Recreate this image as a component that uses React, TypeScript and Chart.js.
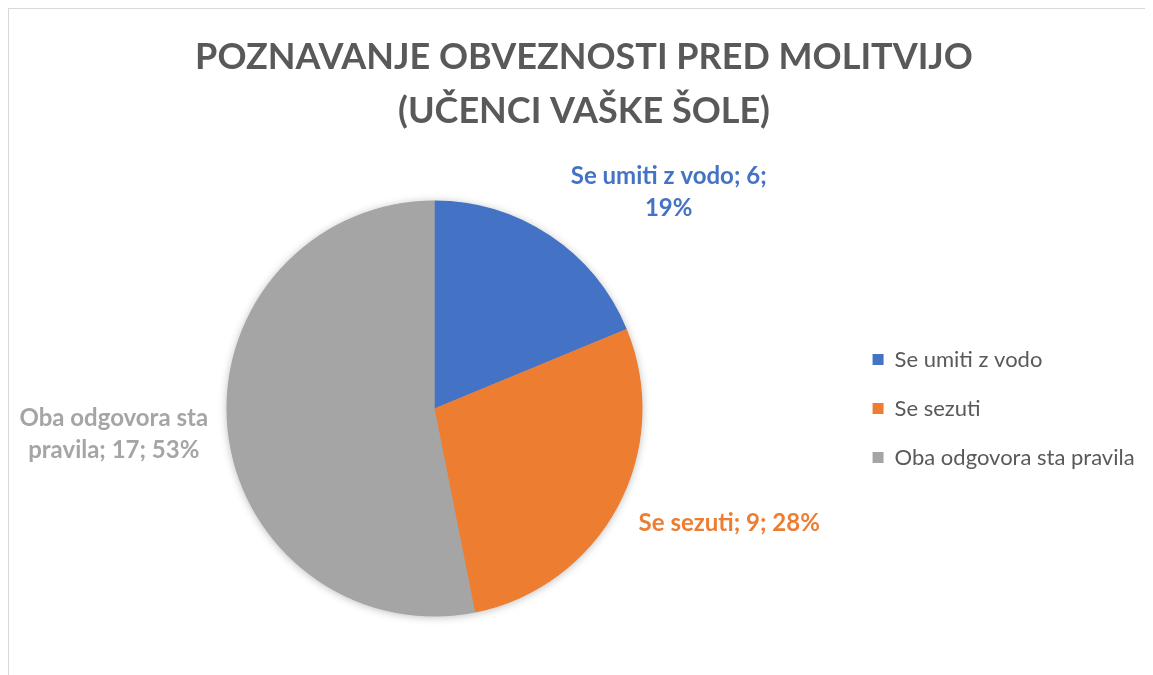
import React, { useEffect, useRef } from "react";
import { Chart, registerables } from "chart.js";

Chart.register(...registerables);

const TITLE_LINES = ["POZNAVANJE OBVEZNOSTI PRED MOLITVIJO", "(UČENCI VAŠKE ŠOLE)"];
const CATEGORIES = ["Se umiti z vodo", "Se sezuti", "Oba odgovora sta pravila"];
const VALUES = [6, 9, 17];
const COLORS = ["#4472C4", "#ED7D31", "#A5A5A5"];
// label lines (as Excel wraps them)
const LABEL_LINES = [
  ["Se umiti z vodo; 6;", "19%"],
  ["Se sezuti; 9; 28%"],
  ["Oba odgovora sta", "pravila; 17; 53%"],
];
// label centre relative to pie centre, in units of the pie radius
const LABEL_POS: [number, number][] = [
  [1.126, -1.038],
  [1.417, 0.55],
  [-1.542, 0.125],
];

const FONT = "Lato, 'Open Sans', sans-serif";

const shadowPlugin = {
  id: "pieShadow",
  beforeDatasetsDraw(chart: any) {
    const meta = chart.getDatasetMeta(0);
    const arc = meta.data[0];
    if (!arc) return;
    const { x, y, outerRadius } = arc.getProps(["x", "y", "outerRadius"], true);
    const ctx = chart.ctx;
    ctx.save();
    ctx.shadowColor = "rgba(0,0,0,0.28)";
    ctx.shadowBlur = 9;
    ctx.shadowOffsetX = 0;
    ctx.shadowOffsetY = 1;
    ctx.fillStyle = "#A5A5A5";
    ctx.beginPath();
    ctx.arc(x, y, outerRadius - 0.5, 0, Math.PI * 2);
    ctx.fill();
    ctx.restore();
  },
};

const labelPlugin = {
  id: "pieLabels",
  afterDatasetsDraw(chart: any) {
    const meta = chart.getDatasetMeta(0);
    const ctx = chart.ctx;
    ctx.save();
    ctx.font = `bold 24px ${FONT}`;
    ctx.textAlign = "center";
    ctx.textBaseline = "middle";
    const lineH = 32;
    meta.data.forEach((arc: any, i: number) => {
      const { x, y, outerRadius } = arc.getProps(["x", "y", "outerRadius"], true);
      const cx = x + LABEL_POS[i][0] * outerRadius;
      const cy = y + LABEL_POS[i][1] * outerRadius;
      const lines = LABEL_LINES[i];
      ctx.fillStyle = COLORS[i];
      lines.forEach((ln, k) => {
        const ly = cy + (k - (lines.length - 1) / 2) * lineH;
        ctx.fillText(ln, cx, ly);
      });
    });
    ctx.restore();
  },
};

export default function App() {
  const ref = useRef<HTMLCanvasElement | null>(null);
  useEffect(() => {
    document.documentElement.style.overflow = "hidden";
    document.body.style.overflow = "hidden";
    if (!ref.current) return;
    const chart = new Chart(ref.current, {
      type: "pie",
      data: {
        labels: CATEGORIES,
        datasets: [
          {
            data: VALUES,
            backgroundColor: COLORS,
            borderWidth: 0,
            hoverOffset: 0,
          },
        ],
      },
      options: {
        responsive: false,
        animation: false,
        layout: { padding: { left: 14.4, right: 8.4, top: 0, bottom: 58.5 } },
        plugins: {
          title: {
            display: true,
            text: TITLE_LINES,
            color: "#595959",
            font: { family: FONT, size: 36, weight: "bold", lineHeight: 54 / 36 },
            padding: { top: 21, bottom: 62.5 },
          },
          legend: {
            display: true,
            position: "right",
            align: "center",
            fullSize: false,
            labels: {
              boxWidth: 11,
              boxHeight: 11,
              padding: 27,
              color: "#595959",
              font: { family: FONT, size: 22 },
            },
          },
          tooltip: { enabled: false },
        },
      },
      plugins: [shadowPlugin, labelPlugin],
    });
    return () => chart.destroy();
  }, []);
  return (
    <div
      style={{
        width: 1144,
        height: 666,
        borderTop: "1px solid #d9d9d9",
        borderLeft: "1px solid #d9d9d9",
        background: "#fff",
      }}
    >
      <canvas ref={ref} width={1144} height={666} style={{ display: "block" }} />
    </div>
  );
}
